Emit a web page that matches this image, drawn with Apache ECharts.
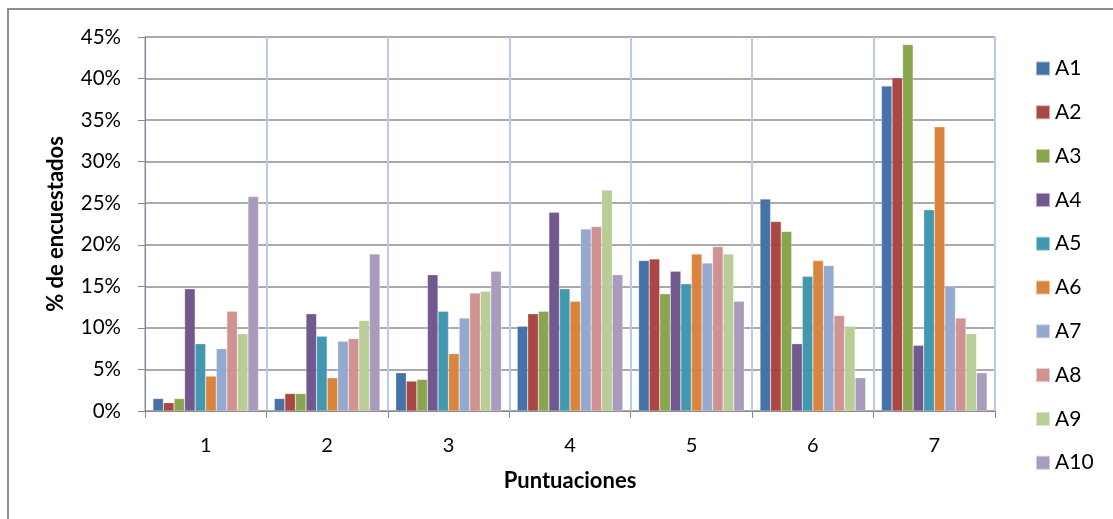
<!DOCTYPE html>
<html><head><meta charset="utf-8">
<script src="https://cdn.jsdelivr.net/npm/echarts@6/dist/echarts.min.js"></script>
<style>html,body{margin:0;padding:0;background:#fff}#c{width:1113px;height:519px}</style>
</head><body><div id="c"></div>
<script>
const categories = ['1','2','3','4','5','6','7'];
const seriesNames = ['A1','A2','A3','A4','A5','A6','A7','A8','A9','A10'];
const A1  = [1.5, 1.5, 4.6, 10.2, 18.1, 25.5, 39.1];
const A2  = [1.0, 2.1, 3.6, 11.7, 18.3, 22.8, 40.1];
const A3  = [1.5, 2.1, 3.8, 12.0, 14.1, 21.6, 44.1];
const A4  = [14.7, 11.7, 16.4, 23.9, 16.8, 8.1, 7.9];
const A5  = [8.1, 9.0, 12.0, 14.7, 15.3, 16.2, 24.2];
const A6  = [4.2, 4.0, 6.9, 13.2, 18.9, 18.1, 34.2];
const A7  = [7.5, 8.4, 11.2, 21.9, 17.8, 17.5, 15.0];
const A8  = [12.0, 8.7, 14.2, 22.2, 19.8, 11.5, 11.2];
const A9  = [9.3, 10.9, 14.4, 26.6, 18.9, 10.2, 9.3];
const A10 = [25.8, 18.9, 16.8, 16.4, 13.2, 4.0, 4.6];
const yTicks = [0,5,10,15,20,25,30,35,40,45];
const colors = ['#4572A7','#AA4643','#89A54E','#71588F','#4198AF','#DB843D','#93A9CF','#D19392','#B9CD96','#A99BBD'];
const allData = [A1,A2,A3,A4,A5,A6,A7,A8,A9,A10];
const FONT = 'Lato';

const chart = echarts.init(document.getElementById('c'));
chart.setOption({
  animation:false,
  color: colors,
  textStyle:{fontFamily:FONT},
  graphic:[{type:'rect',shape:{x:8,y:9,width:1120,height:530},style:{fill:'none',stroke:'#8c8c8c',lineWidth:2},silent:true}],
  grid:{left:145,right:118,top:37,bottom:108},
  legend:{
    orient:'vertical', left:1030, top:53, itemGap:22.8, itemWidth:14, itemHeight:14,
    icon:'rect', textStyle:{fontSize:21,color:'#000',fontFamily:FONT},
    data: seriesNames
  },
  xAxis:{
    type:'category', data:categories,
    name:'Puntuaciones', nameLocation:'middle', nameGap:59,
    nameTextStyle:{fontSize:22,fontWeight:'bold',color:'#000',fontFamily:FONT},
    axisLine:{lineStyle:{color:'#888',width:1}},
    axisTick:{show:true,length:7,lineStyle:{color:'#888'}},
    axisLabel:{fontSize:20,color:'#000',margin:25,fontFamily:FONT},
    splitLine:{show:true,lineStyle:{color:'#B8CCEA',width:2}}
  },
  yAxis:{
    type:'value', min:0, max:45, interval:5,
    name:'% de encuestados', nameLocation:'middle', nameGap:78,
    nameTextStyle:{fontSize:22,fontWeight:'bold',color:'#000',fontFamily:FONT},
    axisLine:{show:true,lineStyle:{color:'#888',width:1}},
    axisTick:{show:true,length:7,lineStyle:{color:'#888'}},
    axisLabel:{fontSize:20.5,color:'#000',margin:24,fontFamily:FONT,formatter:v=>v+'%'},
    splitLine:{show:true,lineStyle:{color:'#aaa',width:2}}
  },
  series: seriesNames.map((n,i)=>({
    name:n, type:'bar', data:allData[i], barGap:'0%', barCategoryGap:'13%',
    itemStyle:{color:colors[i], borderColor:'rgba(255,255,255,0.5)', borderWidth:0.5}
  }))
});
</script></body></html>
